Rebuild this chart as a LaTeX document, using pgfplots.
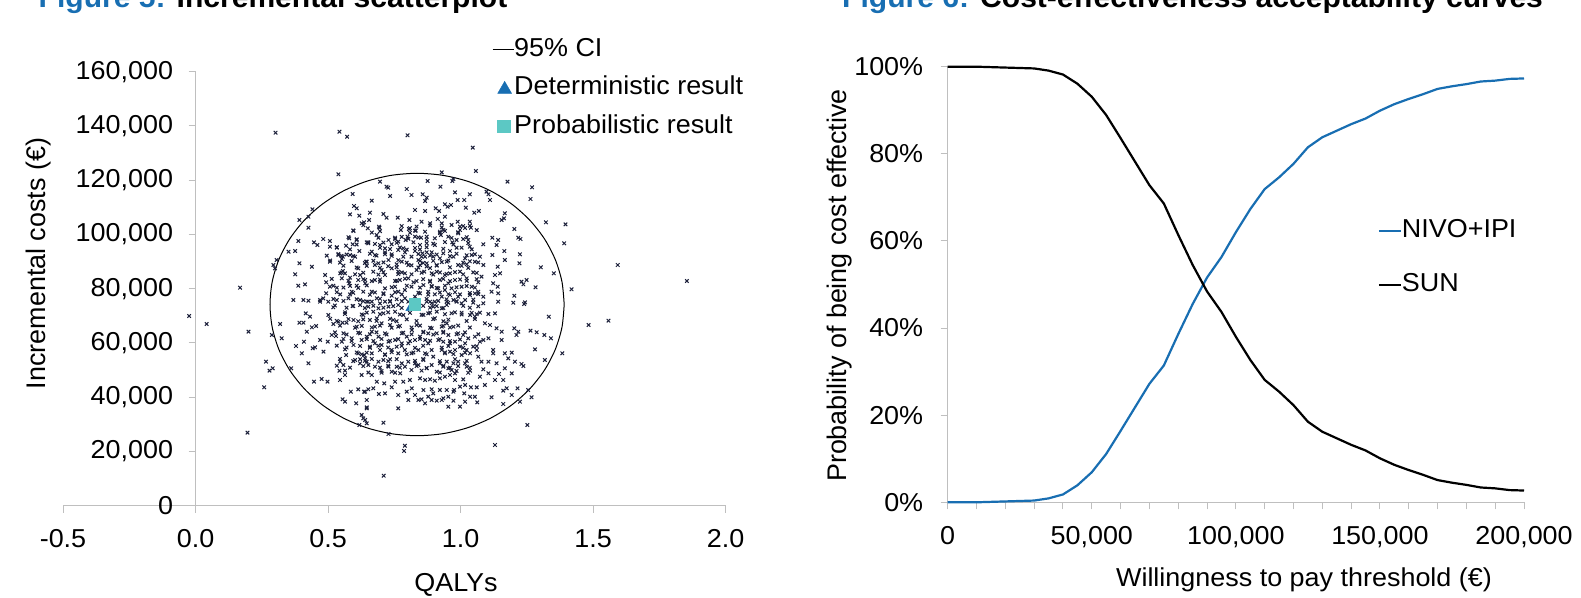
\documentclass[border=0pt]{standalone}
\usepackage{fontspec}
\setmainfont{Liberation Sans}[FakeStretch=1.04]
\newfontfamily\rotfont{Liberation Sans}
\usepackage{pgfplots}
\pgfplotsset{compat=1.18}
\usepackage{pgfplotstable}

\definecolor{axisgray}{RGB}{191,191,191}
\definecolor{figblue}{RGB}{24,110,178}
\definecolor{ptnavy}{RGB}{28,32,58}
\definecolor{turq}{RGB}{92,200,196}

\newcommand\tickfont{\fontsize{26}{28}\selectfont}
\newcommand\titlefont{\fontsize{29}{32}\selectfont\bfseries}
\newcommand\rotlabelfont{\rotfont\fontsize{27}{30}\selectfont}

\pgfplotstableread{
wtp nivo sun
0 0.000 1.000
5000 0.000 1.000
10000 0.000 1.000
15000 0.001 0.999
20000 0.002 0.998
25000 0.003 0.997
30000 0.004 0.996
35000 0.009 0.991
40000 0.018 0.982
45000 0.039 0.961
50000 0.069 0.931
55000 0.111 0.889
60000 0.164 0.836
65000 0.218 0.782
70000 0.272 0.728
75000 0.314 0.686
80000 0.386 0.614
85000 0.455 0.545
90000 0.516 0.484
95000 0.563 0.437
100000 0.620 0.380
105000 0.673 0.327
110000 0.719 0.281
115000 0.746 0.254
120000 0.777 0.223
125000 0.815 0.185
130000 0.838 0.162
135000 0.853 0.147
140000 0.868 0.132
145000 0.881 0.119
150000 0.899 0.101
155000 0.914 0.086
160000 0.926 0.074
165000 0.937 0.063
170000 0.949 0.051
175000 0.955 0.045
180000 0.960 0.040
185000 0.966 0.034
190000 0.968 0.032
195000 0.972 0.028
200000 0.973 0.027
}\ceac

\begin{document}
\begin{tikzpicture}
% ---------------- Left: incremental scatterplot ----------------
\begin{axis}[
  at={(63bp,92.3bp)}, anchor=south west,
  scale only axis, width=662.6bp, height=434bp,
  xmin=-0.5, xmax=2, ymin=0, ymax=160000,
  axis x line=bottom, axis y line=middle,
  hide obscured x ticks=false, hide obscured y ticks=false,
  axis line style={-, draw=axisgray, line width=1bp},
  every tick/.style={draw=axisgray, line width=1bp},
  major tick length=7bp, tick align=outside,
  xtick={-0.5,0,0.5,1,1.5,2},
  xticklabels={-0.5,0.0,0.5,1.0,1.5,2.0},
  ytick={0,20000,40000,60000,80000,100000,120000,140000,160000},
  yticklabels={0,{20,000},{40,000},{60,000},{80,000},{100,000},{120,000},{140,000},{160,000}},
  scaled ticks=false,
  tick label style={font=\tickfont},
  xticklabel style={yshift=-13.5bp},
  yticklabel style={xshift=-12bp},
  clip=false,
  legend style={draw=none, fill=none, at={(0.6474,0.9628)}, anchor=west,
    font=\tickfont, row sep=14.5bp, inner sep=0pt,
    nodes={inner sep=0pt, text height=19bp, text depth=5bp},
    /tikz/every even column/.append style={column sep=2bp}},
  legend cell align=left,
]
\addplot[only marks, mark=x, mark size=2.5bp, mark options={line width=1bp}, color=ptnavy, forget plot] coordinates {
(0.539,122161)(0.593,114911)(0.598,110487)(0.608,109626)(0.583,107414)(0.618,106923)(0.627,104096)(0.636,104465)(0.441,109258)(0.426,106554)(0.392,105325)(0.426,102499)(0.596,101270)(0.580,98566)(0.482,98320)(0.507,97583)(0.447,97092)(0.460,96109)(0.388,97583)(0.608,97952)(0.646,97092)(0.507,95494)(0.533,95125)(0.568,95863)(0.593,96354)(0.351,93651)(0.376,93896)(0.495,92176)(0.539,92421)(0.556,91807)(0.583,92421)(0.602,91807)(0.618,93896)(0.507,89964)(0.552,90947)(0.643,89964)(0.306,90578)(0.294,88735)(0.300,87506)(0.392,89349)(0.439,88120)(0.614,87506)(0.556,86523)(0.546,85663)(0.564,85663)(0.376,85294)(0.489,85048)(0.621,85048)(0.552,83819)(0.583,84065)(0.614,83205)(0.388,81116)(0.413,81607)(0.493,82345)(0.507,80747)(0.533,80378)(0.580,81976)(0.608,81116)(0.640,81976)(0.168,80378)(0.493,78289)(0.546,77921)(0.589,78904)(0.633,78904)(0.369,75831)(0.407,75831)(0.470,75831)(0.482,76446)(0.533,75831)(0.577,76446)(0.621,75831)(0.646,75217)
(0.929,122898)(1.058,123390)(0.696,119458)(0.721,117614)(0.727,117246)(0.876,119703)(0.973,120441)(0.969,119703)(1.177,119458)(1.270,117369)(0.924,117614)(0.797,116754)(0.815,114542)(0.857,114788)(0.734,114173)(0.665,112453)(0.872,113559)(0.866,112330)(0.979,115525)(1.035,114788)(1.098,115771)(1.111,112699)(1.105,114788)(1.264,113067)(0.941,111101)(0.951,110241)(0.964,110855)(0.989,112699)(1.014,112699)(1.020,109872)(0.906,109626)(0.919,108643)(0.828,109012)(0.866,108643)(1.052,108029)(1.069,108643)(0.658,108029)(0.709,107537)(0.721,106185)(1.167,107783)(1.155,105325)(1.164,105940)(0.763,106185)(0.807,105325)(0.853,104711)(0.885,104096)(0.914,105694)(0.941,106554)(0.929,104096)(0.966,103482)(0.989,104711)(1.010,103113)(1.035,104711)(1.039,102499)(0.655,105325)(0.692,102868)(0.650,102253)(0.775,101638)(0.805,102007)(0.831,101393)(0.922,101024)(0.935,101638)(0.998,101638)(1.203,102007)(1.322,104465)(1.396,103727)(0.683,99796)(0.753,98812)(0.800,99181)(0.851,98812)(0.872,99181)(0.926,99796)(0.991,100410)(1.029,97952)(1.120,98812)(1.142,97952)(1.218,98812)(1.226,98320)(0.652,96723)(0.696,96109)(0.793,97952)(0.822,97092)(0.847,96109)(0.872,96723)(0.903,96109)(0.969,97092)(1.004,95125)(1.035,95494)(1.086,96354)(1.136,96109)(1.391,96723)(0.665,93651)(0.715,93405)(0.740,92668)(0.765,94265)(0.790,93405)(0.828,93896)(0.856,93036)(0.872,93405)(0.897,91807)(0.935,93036)(0.960,93896)(0.973,91807)(1.017,91193)(1.042,92421)(1.073,91807)(1.120,92421)(1.165,93896)(1.224,92668)(0.646,89964)(0.690,89349)(0.728,90578)(0.759,88980)(0.778,89964)(0.841,90578)(0.853,91807)(0.872,89349)(0.910,88735)(0.948,89964)(0.991,88735)(1.023,88980)(1.054,89964)(1.086,88735)(1.140,88120)(1.167,90578)(1.222,89349)(1.303,87875)(0.671,86277)(0.702,86891)(0.765,86277)(0.790,85663)(0.834,86891)(0.847,88735)(0.863,86277)(0.891,85663)(0.910,86277)(0.941,85048)(0.960,85663)(0.998,86277)(1.048,86032)(1.079,84434)(1.130,85048)(1.149,85663)(1.352,85663)(0.640,83205)(0.677,83205)(0.696,82591)(0.753,82836)(0.771,83205)(0.803,83819)(0.822,82345)(0.885,82591)(0.922,83205)(0.954,81976)(0.979,83205)(1.023,83819)(1.067,82345)(1.123,81976)(1.140,80747)(1.230,82591)(1.249,83205)(1.237,81607)(1.283,80501)(1.419,79764)(0.665,78904)(0.709,78289)(0.740,77429)(0.765,78904)(0.790,79519)(0.847,78289)(0.878,78904)(0.903,77921)(0.941,79519)(0.960,77675)(0.991,77060)(1.035,77675)(1.054,78289)(1.086,77060)(1.117,78904)(1.142,78289)(1.203,77429)(1.243,74971)
(0.677,88735)(0.715,85048)(0.740,87506)(0.803,88735)(0.815,80747)(0.828,77060)(0.860,81362)(0.891,80747)(0.916,80132)(0.929,77060)(0.966,80132)(1.004,80747)(1.017,75831)(1.042,80747)(1.067,78904)(0.903,75217)(0.841,75217)(0.790,76446)(0.734,75217)(0.684,76446)(0.652,75217)(0.715,80132)(0.753,80747)(0.973,75831)(0.948,75217)(0.885,75217)(0.866,91807)(0.891,93405)(0.922,91193)(0.815,91807)(0.784,91807)(0.715,94880)(0.677,92421)(0.765,97337)(0.728,97952)(0.903,98566)(0.954,99181)(0.828,99181)(0.784,94880)(0.985,97952)
(-0.024,69934)(0.042,66985)(0.200,64158)(0.319,66985)(0.288,62930)(0.325,61701)(0.392,67477)(0.407,67477)(0.420,64158)(0.439,65756)(0.455,66247)(0.416,70918)(0.432,69689)(0.379,58874)(0.409,60472)(0.401,56171)(0.426,52484)(0.442,58014)(0.451,58383)(0.470,61086)(0.483,56785)(0.499,60472)(0.501,70303)(0.520,66985)(0.514,62930)(0.530,62561)(0.539,67845)(0.555,67477)(0.564,70672)(0.570,67477)(0.558,63544)(0.552,60472)(0.564,57645)(0.568,55556)(0.546,53099)(0.558,51869)(0.543,49780)(0.545,46340)(0.564,48182)(0.447,45725)(0.476,46708)(0.498,45725)(0.266,53099)(0.279,49780)(0.291,50641)(0.361,50641)(0.259,43636)(0.196,26924)(0.426,75587)(0.470,75219)(0.501,75219)(0.520,73130)(0.593,73621)(0.621,73990)(0.633,70303)(0.596,68460)(0.608,66002)(0.621,63544)(0.589,61701)(0.627,61086)(0.596,59243)(0.614,56171)(0.636,55556)(0.602,53713)(0.621,52484)(0.646,53099)(0.627,48182)(0.586,42038)(0.614,42898)(0.636,42038)(0.555,39213)(0.564,38352)(0.606,37738)(0.646,36263)(0.627,33436)(0.633,32208)(0.618,29749)(0.646,30364)
(0.652,73375)(0.671,71532)(0.690,72761)(0.709,70918)(0.728,73375)(0.753,71532)(0.765,73990)(0.784,70303)(0.658,68460)(0.684,69074)(0.702,67231)(0.734,66616)(0.746,68460)(0.765,66002)(0.778,63544)(0.797,62316)(0.816,64773)(0.834,66616)(0.860,70303)(0.878,70918)(0.897,73375)(0.910,71532)(0.929,72761)(0.948,73990)(0.966,70918)(0.903,69074)(0.929,66002)(0.935,64158)(0.948,67231)(0.973,66002)(0.954,62930)(1.004,71164)(1.036,70303)(1.054,69689)(1.073,71164)(1.105,70672)(1.130,70918)(1.086,74604)(1.048,74850)(1.142,75219)(1.199,74850)(1.240,74358)(1.333,69689)(1.092,67231)(1.111,66616)(1.136,65388)(1.155,64158)(1.203,65388)(1.218,64158)(1.211,62930)(1.264,64527)(1.287,63913)(1.316,62930)(1.341,61701)(1.384,56171)(1.281,57645)(1.318,53713)(0.991,63544)(1.010,62930)(1.029,61701)(1.054,62316)(1.073,60472)(1.086,61086)(1.105,61701)(1.155,61086)(1.123,57399)(1.123,56171)(1.167,56171)(1.193,56417)(1.180,54327)(1.205,53099)(1.230,52238)(1.237,51500)(1.079,53099)(1.105,53099)(1.136,52484)(1.086,50272)(1.145,48551)(1.036,56171)(1.004,55556)(0.979,57399)(0.960,56785)(0.941,56171)(0.929,57399)(0.891,57399)(0.897,54942)(0.866,56171)(0.841,57399)(0.815,56171)(0.790,57399)(0.765,56171)(0.740,57399)(0.715,55556)(0.696,57399)(0.665,56171)(0.640,54327)(0.652,51869)(0.690,53099)(0.709,53713)(0.734,53959)(0.778,52484)(0.803,53099)(0.828,52484)(0.841,51869)(0.860,53713)(0.872,50641)(0.910,49411)(0.935,51255)(0.954,50641)(0.966,50026)(0.979,48797)(1.017,52484)(1.023,51255)(1.036,49780)(0.702,49043)(0.740,49411)(0.772,48797)(0.815,50026)(0.847,46954)(0.866,46340)(0.885,46585)(0.903,46094)(0.922,46954)(0.941,47568)(0.960,48182)(0.979,46340)(1.010,46585)(0.809,46340)(0.784,45725)(0.740,43636)(0.712,45111)(0.753,45725)(0.692,41178)(0.765,40809)(0.816,43267)(0.841,38967)(0.853,39213)(0.878,40195)(0.891,42898)(0.891,38967)(0.910,38721)(0.935,39582)(0.973,42038)(0.976,42652)(0.973,38721)(1.014,41424)(1.039,43636)(1.061,43636)(1.036,40195)(1.063,38106)(1.117,39950)(1.161,42407)(1.174,43267)(1.193,40809)(1.215,43267)(1.161,37492)(1.224,38352)(1.255,42652)(1.268,39950)(0.646,35893)(0.640,31593)(0.709,30610)(0.728,26432)(0.765,35893)(0.790,22100)(0.787,20200)(1.130,22377)(1.252,29749)(0.640,42038)(0.652,42898)
(0.665,75219)(0.696,74604)(0.715,75219)(0.803,75219)(0.841,74604)(0.872,75219)(0.891,74604)(0.954,74850)(0.985,75219)(1.004,74604)(0.677,66002)(0.665,64158)(0.646,62316)(0.690,62316)(0.715,63544)(0.728,60472)(0.677,59857)(0.658,58629)(0.702,59243)(0.753,61086)(0.759,58629)(0.778,59857)(0.803,59857)(0.828,61086)(0.847,62316)(0.860,64158)(0.866,61086)(0.878,63544)(0.891,65388)(0.910,63544)(0.916,61086)(0.878,59857)(0.935,60472)(0.960,59857)(0.979,60472)(0.998,58629)(1.017,59857)(1.023,57399)(1.048,58629)(1.061,57399)(1.067,54942)(0.991,53099)(0.973,52484)(0.948,53099)(0.922,52484)(0.891,51869)(0.790,51255)(0.759,51255)(0.728,51255)(0.677,51255)(0.665,48182)(0.684,45725)(0.671,43267)(0.715,41424)(0.646,38967)(0.797,42038)(0.828,40809)(0.860,42652)(0.897,41424)(0.922,42652)(0.948,42652)(0.929,38967)(0.954,40195)(0.998,43882)(1.017,44496)(1.073,47568)(1.105,48797)(1.130,46340)(1.167,50641)(1.193,48797)(1.161,46340)(1.092,44496)(1.017,38352)(1.054,40195)(0.954,36509)(0.998,36509)(0.866,37738)(0.803,38967)
(0.302,137510)(0.543,137879)(0.572,136036)(0.800,136540)(1.046,131980)(1.593,88736)(1.854,82840)(1.483,66616)(1.558,68214)(0.710,11060)
(0.633,103400)(0.694,102500)(0.778,103100)(0.809,102300)(0.834,102900)(0.885,103300)(0.929,102600)(0.998,102900)(1.017,102400)(1.035,103200)
(0.595,101500)(0.665,100700)(0.696,101200)(0.809,100600)(0.828,101400)(0.866,101000)(0.922,100500)(0.941,101300)(0.991,100800)(1.061,101600)
(0.577,99000)(0.608,98200)(0.690,98800)(0.753,98300)(0.778,99100)(0.803,98400)(0.841,98900)(0.872,98100)(0.966,98700)(1.010,98300)(1.023,99000)
(0.608,96300)(0.652,97100)(0.677,96500)(0.709,97000)(0.740,96400)(0.759,96900)(0.897,96600)(0.941,97200)(0.973,96300)(1.029,96800)
(0.533,95300)(0.583,94500)(0.696,95100)(0.734,94600)(0.771,95200)(0.797,94400)(0.828,95000)(0.847,94500)(0.872,95300)(0.935,94700)(0.985,95100)(1.042,94500)
(0.539,92800)(0.551,92100)(0.570,92600)(0.595,92000)(0.658,92900)(0.683,92200)(0.715,92700)(0.740,92100)(0.841,92800)(0.885,92200)(0.910,92600)(0.960,92000)(0.985,92900)(1.023,92300)(1.054,92700)
(0.508,90400)(0.545,89600)(0.589,90200)(0.639,89500)(0.671,90300)(0.709,89700)(0.765,90500)(0.797,89600)(0.847,90200)(0.859,89500)(0.897,90300)(0.929,89800)(0.954,90400)(1.010,89600)(1.035,90100)(1.067,89700)
(0.558,88500)(0.608,87800)(0.646,88400)(0.696,87700)(0.727,88300)(0.759,87900)(0.815,88600)(0.841,87800)(0.872,88200)(0.885,87600)(0.910,88500)(0.960,87900)(1.004,88400)(1.029,87700)
(0.551,86000)(0.602,85300)(0.633,85900)(0.690,85200)(0.709,86100)(0.765,85400)(0.778,86000)(0.815,85300)(0.853,85900)(0.897,85200)(0.922,86000)(0.947,85500)(0.979,86100)(1.010,85300)(1.061,85800)
(0.514,83600)(0.577,82900)(0.633,83500)(0.665,82800)(0.696,83400)(0.759,82900)(0.790,83700)(0.834,82800)(0.859,83500)(0.885,82900)(0.935,83600)(0.960,82800)(0.998,83400)(1.023,82900)(1.061,83500)
(0.520,81100)(0.558,80400)(0.583,81000)(0.614,80300)(0.646,81200)(0.740,80500)(0.797,81100)(0.847,80400)(0.891,81000)(0.910,80300)(0.941,81100)(0.985,80500)(1.023,81000)(1.054,80400)
(0.533,78700)(0.583,77900)(0.595,78500)(0.658,77800)(0.677,78600)(0.709,78000)(0.753,78700)(0.778,77900)(0.841,78500)(0.878,77800)(0.922,78600)(0.954,78000)(0.979,78700)(0.998,77900)(1.035,78400)(1.067,78000)
(0.520,76200)(0.558,75500)(0.608,76100)(0.633,75400)(0.696,76300)(0.734,75500)(0.759,76100)(0.778,75400)(0.872,76200)(0.916,75500)(0.947,76100)(0.985,75400)(1.048,76000)
(0.526,73800)(0.570,73000)(0.595,73600)(0.639,72900)(0.671,73700)(0.709,73000)(0.746,73600)(0.778,72900)(0.859,73700)(0.885,73000)(0.910,73600)(0.935,72900)(1.010,73700)(1.035,73000)(1.067,73500)
(0.564,71300)(0.627,70500)(0.646,71200)(0.696,70600)(0.727,71300)(0.771,70500)(0.809,71100)(0.853,70400)(0.885,71200)(0.941,70600)(0.979,71300)(1.004,70500)(1.042,71100)(1.061,70600)
(0.508,68900)(0.533,68100)(0.577,68800)(0.614,68000)(0.633,68700)(0.683,68100)(0.734,68900)(0.759,68000)(0.797,68700)(0.834,68100)(0.897,68800)(0.935,68000)(0.954,68600)(1.023,68100)(1.054,68800)
(0.545,66400)(0.602,65600)(0.627,66300)(0.665,65700)(0.696,66400)(0.740,65600)(0.771,66300)(0.815,65700)(0.847,66400)(0.885,65600)(0.935,66300)(0.960,65700)(0.991,66400)(1.035,65700)
(0.526,63900)(0.570,63100)(0.614,63800)(0.658,63200)(0.683,63900)(0.721,63100)(0.784,63800)(0.815,63200)(0.859,63900)(0.897,63100)(0.935,63800)(0.985,63200)(1.017,63900)(1.067,63200)
(0.558,61500)(0.589,60700)(0.646,61400)(0.671,60700)(0.702,61500)(0.734,60800)(0.765,61400)(0.809,60700)(0.847,61500)(0.885,60800)(0.922,61400)(0.960,60700)(0.998,61300)
(0.533,59000)(0.570,58300)(0.621,58900)(0.658,58200)(0.690,59000)(0.727,58300)(0.778,58900)(0.828,58200)(0.859,59000)(0.929,58300)(0.954,58900)(1.010,58200)(1.061,58800)
(0.608,56500)(0.627,55800)(0.646,56400)(0.715,55800)(0.740,56600)(0.797,55800)(0.822,56500)(0.872,55800)(0.941,56500)(0.973,55900)(1.017,56400)
(0.545,54100)(0.595,53300)(0.621,54000)(0.639,53400)(0.665,54100)(0.727,53300)(0.759,54000)(0.828,53400)(0.859,54100)(0.922,53300)(0.979,54000)(1.023,53400)
(0.533,51600)(0.583,50900)(0.633,51500)(0.696,50900)(0.727,51600)(0.771,50900)(0.834,51500)(0.872,50800)(0.935,51600)(0.960,50900)(0.991,51500)(1.035,50900)
(0.564,49800)(0.652,49100)(0.702,49700)(0.753,49000)(0.853,49800)(0.922,49100)(0.985,49700)(1.029,49000)
};
\addplot[black, line width=1bp, smooth, tension=0.5,
  legend image code/.code={\draw[black, line width=1bp] (0bp,0bp) -- (21bp,0bp);}] coordinates {
(1.391,74170)(1.3826,82567)(1.3575,90713)(1.3166,98355)(1.2611,105262)(1.1928,111221)(1.1135,116058)(1.0258,119623)(0.9323,121805)(0.836,122540)(0.7397,121805)(0.6462,119623)(0.5585,116058)(0.4792,111221)(0.4109,105262)(0.3554,98355)(0.3145,90713)(0.2894,82567)(0.281,74170)(0.2894,65773)(0.3145,57627)(0.3554,49985)(0.4109,43078)(0.4792,37119)(0.5585,32282)(0.6462,28717)(0.7397,26535)(0.836,25800)(0.9323,26535)(1.0258,28717)(1.1135,32282)(1.1928,37119)(1.2611,43078)(1.3166,49985)(1.3575,57627)(1.3826,65773)(1.391,74170)
};
\addlegendentry{95\% CI}
\addplot[only marks, mark=triangle*, mark size=7.5bp, color=figblue, mark options={fill=figblue, draw=figblue},
  legend image code/.code={\path[draw=none, fill=none] (0bp,-6bp) rectangle (21bp,6bp); \draw[figblue, mark options={fill=figblue, draw=figblue}] plot[mark=triangle*, mark size=8bp] coordinates {(12bp,-1.5bp)};}] coordinates {(0.818,73300)};
\addlegendentry{Deterministic result}
\addplot[only marks, mark=square*, mark size=5.8bp, color=turq, mark options={fill=turq, draw=turq},
  legend image code/.code={\path[draw=none, fill=none] (0bp,-6bp) rectangle (21bp,6bp); \draw[turq, mark options={fill=turq, draw=turq}] plot[mark=square*, mark size=6.3bp] coordinates {(11bp,0bp)};}] coordinates {(0.827,74285)};
\addlegendentry{Probabilistic result}
\end{axis}

% ---------------- Right: CEAC ----------------
\begin{axis}[
  at={(947.7bp,95.7bp)}, anchor=south west,
  scale only axis, width=576.3bp, height=435.6bp,
  xmin=0, xmax=200000, ymin=0, ymax=1,
  axis x line=bottom, axis y line=left,
  axis line style={-, draw=axisgray, line width=1bp},
  every tick/.style={draw=axisgray, line width=1bp},
  major tick length=7bp, minor tick length=7bp, tick align=outside,
  xtick={0,50000,100000,150000,200000},
  xticklabels={0,{50,000},{100,000},{150,000},{200,000}},
  minor x tick num=4,
  ytick={0,0.2,0.4,0.6,0.8,1},
  yticklabels={0\%,20\%,40\%,60\%,80\%,100\%},
  scaled ticks=false,
  tick label style={font=\tickfont},
  xticklabel style={yshift=-13.5bp},
  yticklabel style={xshift=-14bp},
  clip=false,
  legend style={draw=none, fill=none, at={(0.7458,0.5615)}, anchor=west,
    font=\tickfont, row sep=30bp, inner sep=0pt,
    nodes={inner sep=0pt, text height=19bp, text depth=5bp},
    /tikz/every even column/.append style={column sep=2bp}},
  legend cell align=left,
]
\addplot[figblue, line width=2.2bp,
  legend image code/.code={\draw[figblue, line width=2.2bp] (0bp,0bp) -- (22bp,0bp);}] table[x=wtp, y=nivo] {\ceac};
\addlegendentry{NIVO+IPI}
\addplot[black, line width=2.2bp,
  legend image code/.code={\draw[black, line width=2.2bp] (0bp,0bp) -- (22bp,0bp);}] table[x=wtp, y=sun] {\ceac};
\addlegendentry{SUN}
\end{axis}

% ---------------- titles and axis labels ----------------
\node[anchor=base west, inner sep=0pt] at (38.5bp,590.5bp) {\titlefont{\color{figblue}Figure 5:} Incremental scatterplot};
\node[anchor=base west, inner sep=0pt] at (842bp,590.5bp) {\titlefont{\color{figblue}Figure 6:} Cost-effectiveness acceptability curves};
\node[rotate=90, inner sep=0pt] at (38.5bp,334.5bp) {\rotlabelfont Incremental costs (€)};
\node[inner sep=0pt] at (456bp,13bp) {\tickfont QALYs};
\node[rotate=90, inner sep=0pt] at (840bp,312.5bp) {\rotlabelfont Probability of being cost effective};
\node[inner sep=0pt] at (1304bp,18.3bp) {\tickfont Willingness to pay threshold (€)};

\pgfresetboundingbox
\path[use as bounding box] (0bp,0bp) rectangle (1581bp,598bp);
\end{tikzpicture}
\end{document}
